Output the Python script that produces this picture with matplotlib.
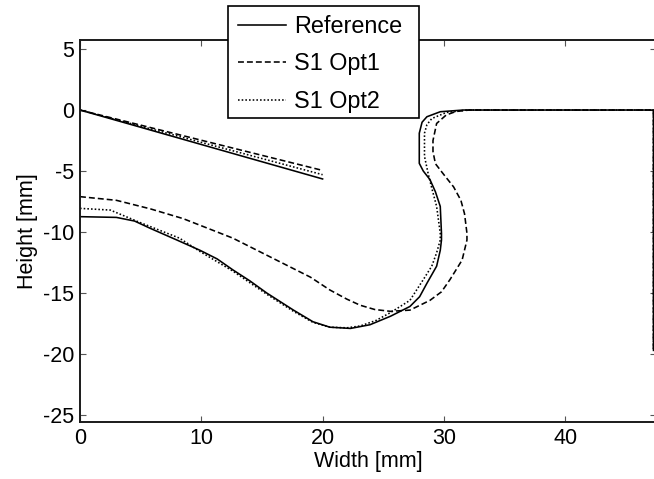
import numpy as np
import matplotlib
matplotlib.use("Agg")
import matplotlib.pyplot as plt
from matplotlib.patches import Rectangle

plt.rcParams['font.family'] = ['Liberation Sans', 'DejaVu Sans']
plt.rcParams['axes.unicode_minus'] = False

nan = np.nan

# Each profile: straight flank segment, then the cavity contour, then the top edge and right side
ref_x = [0, 20.0, nan,
         0, 3.0, 4.5, 5.8, 8.0, 9.9, 11.3, 12.6, 14.0, 15.4, 17.6, 19.2, 20.6, 22.3, 23.9,
         25.6, 27.2, 28.0, 28.6, 29.4, 29.7, 29.8, 29.8, 29.7, 29.3, 28.85, 28.3, 27.97,
         27.97, 28.2, 28.6, 29.7, 31.6, 47.28, 47.28]
ref_y = [0, -5.65, nan,
         -8.74, -8.8, -9.1, -9.7, -10.66, -11.5, -12.2, -13.1, -14.0, -15.0, -16.4, -17.35,
         -17.8, -17.9, -17.6, -16.9, -16.1, -15.3, -14.2, -12.8, -11.5, -10.66, -10.1, -7.9,
         -6.7, -5.7, -5.0, -4.37, -1.9, -1.0, -0.55, -0.14, 0.0, 0.0, -19.7]

opt1_x = [0, 20.0, nan,
          0, 3.0, 5.8, 8.5, 12.6, 16.2, 19.0, 20.6, 22.0, 23.1, 24.3, 25.6, 27.2, 28.85,
          29.8, 30.5, 31.5, 31.9, 31.9, 31.7, 31.4, 30.8, 30.0, 29.3, 29.1, 29.1, 29.4,
          30.2, 31.0, 32.1, 47.28, 47.28]
opt1_y = [0, -4.95, nan,
          -7.1, -7.4, -8.1, -8.9, -10.5, -12.3, -13.7, -14.75, -15.5, -16.0, -16.35, -16.5,
          -16.4, -15.6, -14.9, -13.9, -12.3, -10.66, -10.1, -8.5, -7.4, -6.3, -5.3, -4.4,
          -3.4, -2.5, -1.1, -0.4, -0.12, 0.0, 0.0, -19.7]

opt2_x = [0, 20.0, nan,
          0, 2.5, 4.9, 8.2, 9.9, 12.6, 15.4, 17.6, 19.2, 20.6, 22.0, 23.1, 24.4, 25.6,
          27.2, 28.3, 29.0, 29.4, 29.7, 29.7, 29.4, 29.0, 28.7, 28.4, 28.4, 28.6, 29.0,
          30.2, 31.9, 47.28, 47.28]
opt2_y = [0, -5.3, nan,
          -8.06, -8.2, -9.2, -10.5, -11.6, -13.2, -15.1, -16.5, -17.4, -17.8, -17.85,
          -17.7, -17.25, -16.6, -15.6, -13.9, -12.8, -11.7, -10.66, -10.1, -7.9, -6.4,
          -5.2, -3.8, -1.9, -1.2, -0.7, -0.2, 0.0, 0.0, -19.7]

series_labels = ['Reference', 'S1 Opt1', 'S1 Opt2']

x_ticks = [0, 10, 20, 30, 40]
y_ticks = [-25, -20, -15, -10, -5, 0, 5]

W, H = 654, 479
fig = plt.figure(figsize=(W / 100, H / 100), dpi=100)
ax = fig.add_axes([80 / W, 1 - 422 / H, 47.5 * 12.13 / W, 382 / H])

lw = 1.15
styles = ['-', (0, (3.7, 1.9)), (0, (1.0, 1.3))]
handles = []
for (xs, ys), ls, lab in zip([(ref_x, ref_y), (opt1_x, opt1_y), (opt2_x, opt2_y)],
                             styles, series_labels):
    h, = ax.plot(xs, ys, color='black', lw=lw, linestyle=ls, label=lab)
    handles.append(h)

ax.set_xlim(0, 47.5)
ax.set_ylim(-25.57, 5.74)
ax.set_xticks(x_ticks)
ax.set_yticks(y_ticks)
ax.tick_params(direction='in', length=4, width=0.8, top=True, right=True,
               labelsize=15.5, colors='#555555', pad=4)
ax.tick_params(labelcolor='black')
for sp in ax.spines.values():
    sp.set_linewidth(1.4)
    sp.set_color('#1a1a1a')

ax.set_xlabel('Width [mm]', fontsize=15.5, labelpad=2)
ax.set_ylabel('Height [mm]', fontsize=15.5, labelpad=4)

# Legend box sits across the top edge of the axes
box = Rectangle((228 / W, 1 - 118 / H), 191 / W, 112 / H, transform=fig.transFigure,
                facecolor='white', edgecolor='black', linewidth=1.2, zorder=1)
fig.add_artist(box)
leg = fig.legend(handles=handles, labels=series_labels, loc='upper left',
                 bbox_to_anchor=(231 / W, 1 - 8 / H), bbox_transform=fig.transFigure,
                 fontsize=16.8, frameon=False, handlelength=2.05, handletextpad=0.34,
                 labelspacing=0.62, borderpad=0.3, borderaxespad=0)
leg.set_zorder(2)

fig.savefig('out.png', dpi=100)
